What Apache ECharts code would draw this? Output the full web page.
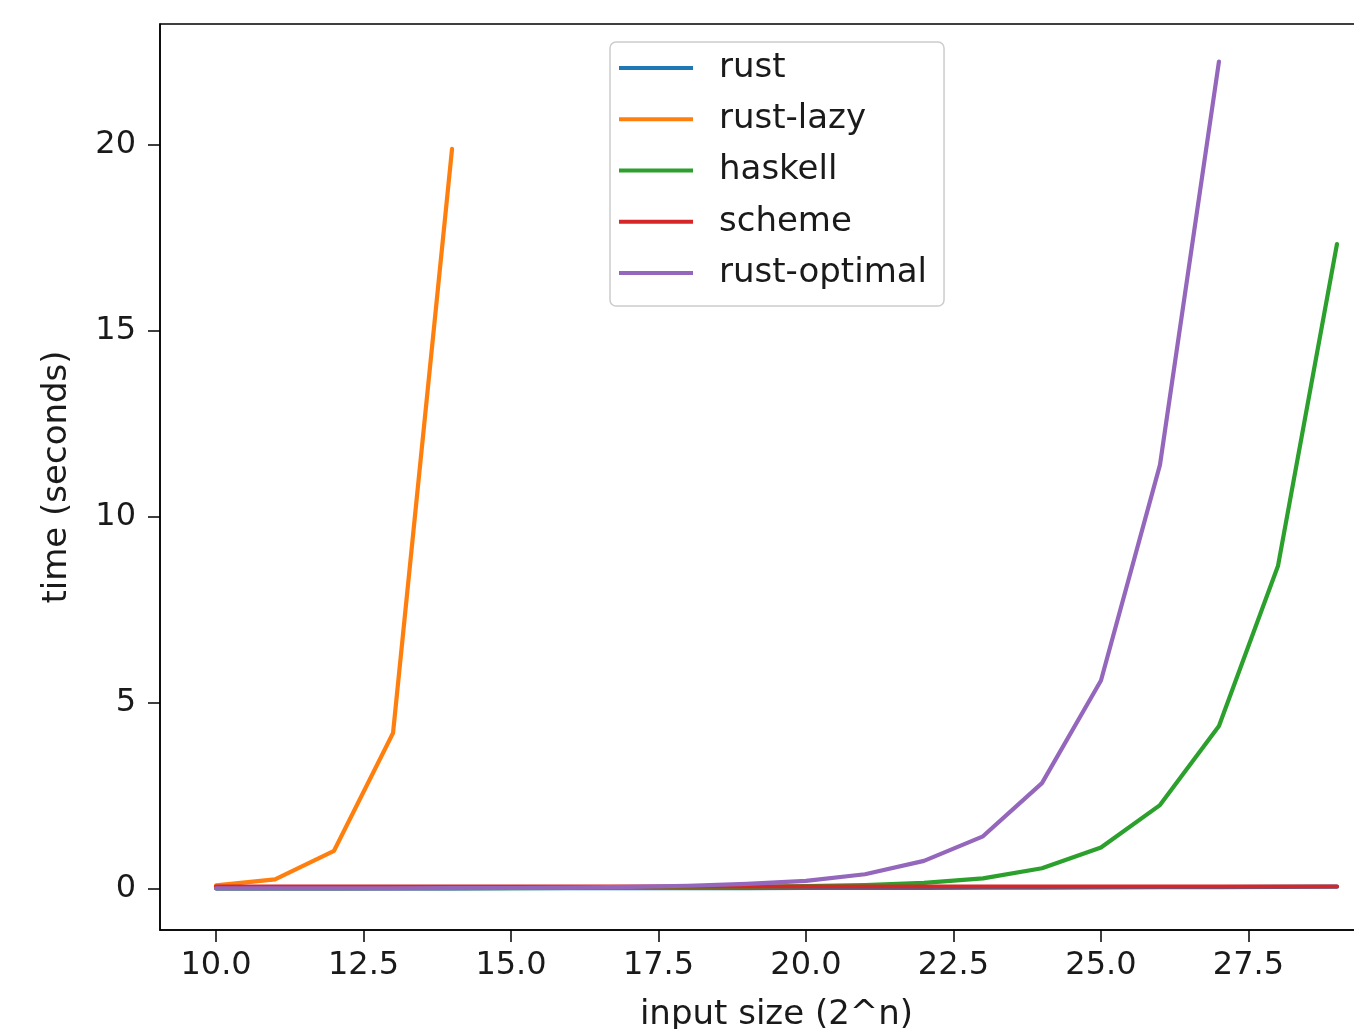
<!DOCTYPE html>
<html>
<head>
<meta charset="utf-8">
<script src="https://cdn.jsdelivr.net/npm/echarts@6/dist/echarts.min.js"></script>
<style>html,body{margin:0;padding:0;background:#fff;}#c{width:1354px;height:1029px;}</style>
</head>
<body>
<div id="c"></div>
<script>
// ---- data ----
const nAll = [10,11,12,13,14,15,16,17,18,19,20,21,22,23,24,25,26,27,28,29];
const rust = [0.001,0.001,0.001,0.002,0.002,0.003,0.004,0.005,0.006,0.008,0.01,0.012,0.015,0.018,0.022,0.026,0.03,0.035,0.04,0.045];
const nLazy = [10,11,12,13,14];
const rustLazy = [0.08,0.24,1.01,4.18,19.89];
const haskell = [0.001,0.001,0.002,0.003,0.004,0.006,0.01,0.015,0.025,0.04,0.06,0.09,0.15,0.27,0.54,1.10,2.24,4.37,8.67,17.33];
const scheme = [0.05,0.05,0.05,0.05,0.05,0.05,0.05,0.05,0.05,0.05,0.05,0.05,0.05,0.05,0.05,0.05,0.05,0.05,0.05,0.05];
const nOpt = [10,11,12,13,14,15,16,17,18,19,20,21,22,23,24,25,26,27];
const rustOptimal = [0.0003,0.0006,0.001,0.002,0.005,0.01,0.02,0.04,0.07,0.12,0.2,0.38,0.74,1.4,2.83,5.59,11.39,22.24];
const xTicks = [10,12.5,15,17.5,20,22.5,25,27.5];
const yTicks = [0,5,10,15,20];

const names = ['rust','rust-lazy','haskell','scheme','rust-optimal'];
const colors = ['#1f77b4','#ff7f0e','#2ca02c','#d62728','#9467bd'];
const xs = [nAll,nLazy,nAll,nAll,nOpt];
const ys = [rust,rustLazy,haskell,scheme,rustOptimal];

const FONT = 'DejaVu Sans';
const TXT = '#1a1a1a';

const series = names.map((nm,i)=>({
  name: nm,
  type: 'line',
  data: xs[i].map((x,j)=>[x, ys[i][j]]),
  showSymbol: false,
  symbol: 'none',
  color: colors[i],
  lineStyle: {width: 4.2, color: colors[i], cap: 'round', join: 'round'},
  clip: true,
  animation: false
}));

const chart = echarts.init(document.getElementById('c'), null, {renderer: 'canvas'});
chart.setOption({
  animation: false,
  backgroundColor: '#fff',
  grid: {left: 160, top: 24, width: 1233, height: 906, show: true, borderColor: '#000', borderWidth: 1.5, containLabel: false, outerBoundsMode: 'none'},
  xAxis: {
    type: 'value', min: 9.05, max: 29.95,
    name: 'input size (2^n)', nameLocation: 'middle', nameGap: 68,
    nameTextStyle: {fontFamily: FONT, fontSize: 34, color: TXT},
    axisLine: {show: true, onZero: false, lineStyle: {color: '#000', width: 1.5}},
    axisTick: {show: true, customValues: xTicks, length: 12, lineStyle: {color: '#000', width: 1.5}},
    axisLabel: {customValues: xTicks, formatter: v => v.toFixed(1), fontFamily: FONT, fontSize: 32, color: TXT, margin: 20},
    splitLine: {show: false}
  },
  yAxis: {
    type: 'value', min: -1.12, max: 23.25,
    name: 'time (seconds)', nameLocation: 'middle', nameGap: 86,
    nameTextStyle: {fontFamily: FONT, fontSize: 34, color: TXT},
    axisLine: {show: true, onZero: false, lineStyle: {color: '#000', width: 1.5}},
    axisTick: {show: true, customValues: yTicks, length: 12, lineStyle: {color: '#000', width: 1.5}},
    axisLabel: {customValues: yTicks, fontFamily: FONT, fontSize: 32, color: TXT, margin: 24},
    splitLine: {show: false}
  },
  legend: {
    orient: 'vertical', left: 610, top: 42,
    data: names.map((nm,i)=>({name: nm, icon: 'rect', itemStyle: {color: colors[i]}})),
    itemWidth: 74, itemHeight: 4, itemGap: 17.25,
    padding: [9,17,16,9],
    backgroundColor: 'rgba(255,255,255,0.8)',
    borderColor: '#cccccc', borderWidth: 1.5, borderRadius: 6,
    textStyle: {fontFamily: FONT, fontSize: 34, lineHeight: 34, color: TXT, padding: [0,0,0,21]},
    selectedMode: false
  },
  series: series
});
</script>
</body>
</html>
